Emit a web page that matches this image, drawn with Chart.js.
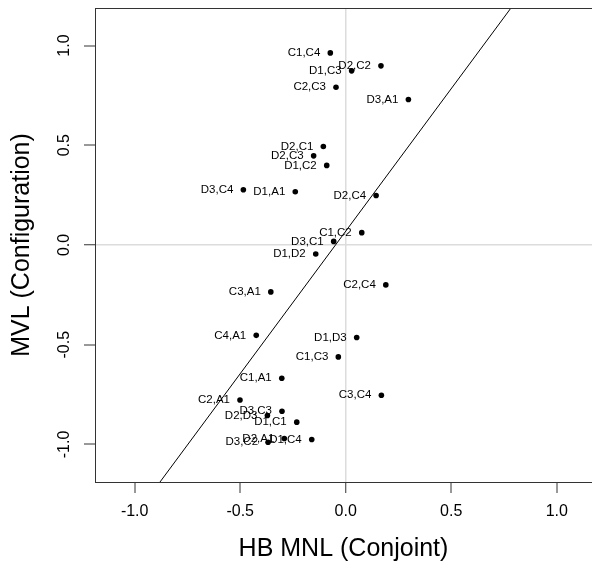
<!DOCTYPE html>
<html>
<head>
<meta charset="utf-8">
<script src="https://cdn.jsdelivr.net/npm/chart.js@4/dist/chart.umd.min.js"></script>
<style>
  html, body { margin: 0; padding: 0; background: #fff; overflow: hidden; }
  canvas { display: block; }
</style>
</head>
<body>
<canvas id="c" width="592" height="571"></canvas>
<script>
// Pair labels
const pairLabels = ["C1,C4","D2,C2","D1,C3","C2,C3","D3,A1","D2,C1","D2,C3","D1,C2","D3,C4","D1,A1","D2,C4","C1,C2","D3,C1","D1,D2","C3,A1","C2,C4","C4,A1","D1,D3","C1,C3","C1,A1","C2,A1","C3,C4","D3,C3","D2,D3","D1,C1","D2,A1","D1,C4","D3,C2"];
// HB MNL (Conjoint) values
const hbMnl = [-0.073,0.167,0.028,-0.046,0.297,-0.106,-0.152,-0.090,-0.485,-0.239,0.144,0.076,-0.057,-0.142,-0.355,0.190,-0.424,0.052,-0.035,-0.303,-0.501,0.169,-0.302,-0.371,-0.232,-0.291,-0.161,-0.368];
// MVL (Configuration) values
const mvl = [0.963,0.898,0.873,0.791,0.729,0.494,0.447,0.399,0.277,0.267,0.248,0.062,0.018,-0.045,-0.235,-0.200,-0.453,-0.464,-0.561,-0.668,-0.777,-0.753,-0.833,-0.855,-0.888,-0.970,-0.975,-0.989];
// Fitted line end points
const fitX = [-0.880, 0.783];
const fitY = [-1.188, 1.188];
// Axis ticks
const tickValues = [-1.0, -0.5, 0.0, 0.5, 1.0];

const FONT = "'Liberation Sans', Arial, Helvetica, sans-serif";

const points = hbMnl.map((x, i) => ({x: x, y: mvl[i]}));
const fitLine = fitX.map((x, i) => ({x: x, y: fitY[i]}));

const pointLabelPlugin = {
  id: 'pointLabels',
  afterDatasetsDraw(chart) {
    const ctx = chart.ctx;
    const meta = chart.getDatasetMeta(1);
    ctx.save();
    ctx.font = "11.5px " + FONT;
    ctx.fillStyle = '#000';
    ctx.textAlign = 'right';
    ctx.textBaseline = 'middle';
    meta.data.forEach((el, i) => {
      ctx.fillText(pairLabels[i], el.x - 10, el.y);
    });
    ctx.restore();
  }
};

const boxPlugin = {
  id: 'box',
  afterDraw(chart) {
    const a = chart.chartArea;
    const ctx = chart.ctx;
    ctx.save();
    ctx.strokeStyle = '#333';
    ctx.lineWidth = 1;
    ctx.beginPath();
    ctx.moveTo(a.left, a.top + 0.5);
    ctx.lineTo(a.right, a.top + 0.5);
    ctx.stroke();
    ctx.restore();
  }
};

const setTicks = (scale) => {
  scale.ticks = tickValues.map(v => ({value: v}));
};

new Chart(document.getElementById('c'), {
  type: 'scatter',
  data: {
    datasets: [
      {
        type: 'line',
        data: fitLine,
        borderColor: '#000',
        borderWidth: 1,
        pointRadius: 0,
        fill: false,
        tension: 0
      },
      {
        data: points,
        backgroundColor: '#000',
        borderWidth: 0,
        pointRadius: 2.8,
        pointHoverRadius: 2.8
      }
    ]
  },
  options: {
    responsive: false,
    devicePixelRatio: 1,
    animation: false,
    events: [],
    layout: { autoPadding: false, padding: { top: 8, right: 0, left: 0, bottom: 0 } },
    plugins: {
      legend: { display: false },
      tooltip: { enabled: false }
    },
    scales: {
      x: {
        type: 'linear',
        min: -1.188,
        max: 1.167,
        afterBuildTicks: setTicks,
        afterFit(scale) {
          scale.height = 89;
          scale.paddingLeft = 0;
          scale.paddingRight = 0;
        },
        border: { display: true, color: '#333', width: 1 },
        grid: {
          drawOnChartArea: true,
          color: (c) => (c.tick && c.tick.value === 0) ? '#dcdcdc' : 'rgba(0,0,0,0)',
          lineWidth: (c) => (c.tick && c.tick.value === 0) ? 1.5 : 0,
          tickColor: '#333',
          tickWidth: 1,
          tickLength: 11,
          drawTicks: true
        },
        ticks: {
          color: '#000',
          font: { family: FONT, size: 16 },
          padding: 9,
          maxRotation: 0,
          minRotation: 0,
          callback: (v) => Number(v).toFixed(1)
        },
        title: {
          display: true,
          text: 'HB MNL (Conjoint)',
          color: '#000',
          font: { family: FONT, size: 25 },
          padding: { top: 0, bottom: 7 }
        }
      },
      y: {
        type: 'linear',
        min: -1.188,
        max: 1.188,
        afterBuildTicks: setTicks,
        afterFit(scale) {
          scale.width = 95;
          scale.paddingTop = 0;
          scale.paddingBottom = 0;
        },
        border: { display: true, color: '#333', width: 1 },
        grid: {
          drawOnChartArea: true,
          color: (c) => (c.tick && c.tick.value === 0) ? '#dcdcdc' : 'rgba(0,0,0,0)',
          lineWidth: (c) => (c.tick && c.tick.value === 0) ? 1.5 : 0,
          tickColor: '#333',
          tickWidth: 1,
          tickLength: 11,
          drawTicks: true
        },
        ticks: {
          color: '#000',
          font: { family: FONT, size: 16 },
          padding: 6,
          minRotation: 90,
          maxRotation: 90,
          crossAlign: 'center',
          callback: (v) => Number(v).toFixed(1)
        },
        title: {
          display: true,
          text: 'MVL (Configuration)',
          color: '#000',
          font: { family: FONT, size: 25 },
          padding: { top: 7, bottom: 0 }
        }
      }
    }
  },
  plugins: [pointLabelPlugin, boxPlugin]
});
</script>
</body>
</html>
